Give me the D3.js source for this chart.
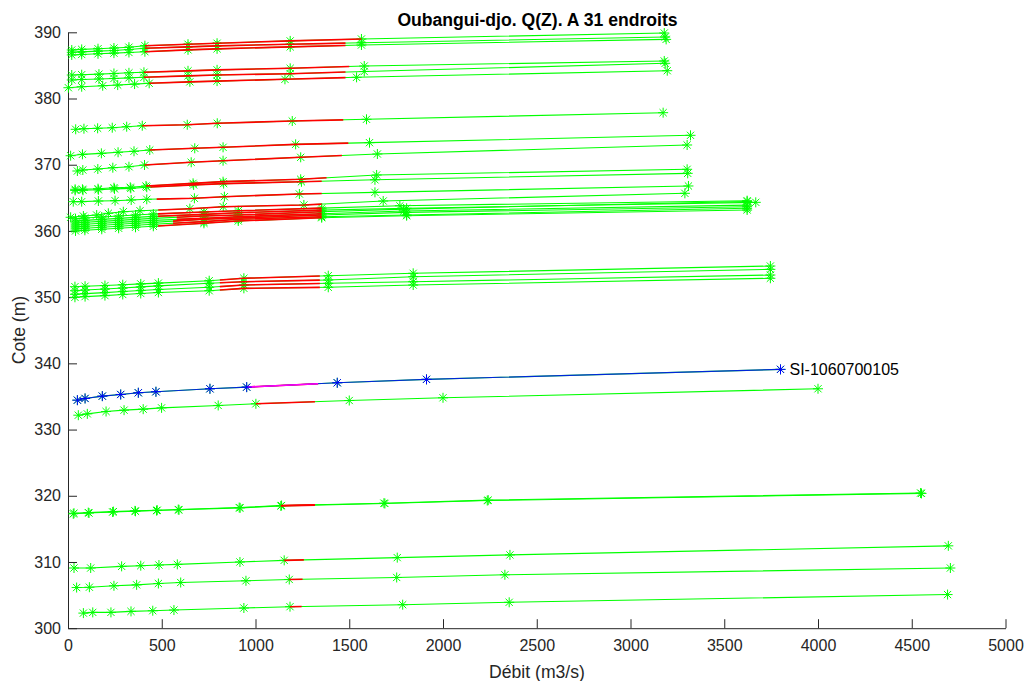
<!DOCTYPE html>
<html><head><meta charset="utf-8">
<script src="https://cdn.jsdelivr.net/npm/d3@7"></script>
<style>body{margin:0;background:#fff;} svg{display:block;font-family:"Liberation Sans",Arial,sans-serif;}</style>
</head><body><svg id="c" width="1030" height="681"></svg>
<script>
const titleText = "Oubangui-djo. Q(Z). A 31 endroits";
const xLabel = "Débit (m3/s)";
const yLabel = "Cote (m)";
const xTicks = [0,500,1000,1500,2000,2500,3000,3500,4000,4500,5000];
const yTicks = [300,310,320,330,340,350,360,370,380,390];
const highlightName = "SI-1060700105";

// Group A (387-390)
const qA = [[20,73,160,245,325,410,640,795,1185,1565,3180],[20,73,160,245,325,410,640,795,1185,1565,3185],[20,73,160,245,325,410,640,795,1185,1565,3190]];
const zA = [[387.33,387.42,387.52,387.62,387.75,387.98,388.2,388.35,388.7,388.99,389.89],
            [386.98,387.05,387.15,387.25,387.4,387.58,387.8,387.95,388.2,388.42,389.28],
            [386.58,386.65,386.75,386.85,386.95,387.07,387.35,387.5,387.8,388.08,388.93]];
const redA = [[410,1565],[410,1480],[410,1480]];
// Group B (382-386)
const qB = [[20,73,165,245,325,405,640,795,1185,1580,3180],[20,73,165,245,325,405,640,795,1185,1580,3185],[2,73,185,265,355,433,650,795,1157,1539,3196]];
const zB = [[383.55,383.6,383.68,383.78,383.88,383.96,384.18,384.33,384.56,384.91,385.67],
            [382.8,382.87,382.95,383.03,383.12,383.2,383.42,383.55,383.75,384.08,385.32],
            [381.63,381.78,381.93,382.03,382.18,382.3,382.52,382.63,382.9,383.2,384.2]];
const redB = [[405,1500],[405,1480],[433,1480]];
// Group C (375-378)
const qC = [[41,85,158,236,313,396,636,796,1196,1592,3174]];
const zC = [[375.35,375.44,375.5,375.59,375.74,375.89,376.04,376.26,376.6,376.86,377.86]];
const redC = [[396,1468]];
// Group D (369-374)
const qD = [[14,77,178,267,352,436,676,827,1214,1608,3320],[50,79,159,239,325,408,657,827,1241,1650,3302]];
const zD = [[371.36,371.57,371.72,371.88,372.03,372.22,372.48,372.63,373.08,373.33,374.44],
            [369.05,369.2,369.35,369.55,369.7,369.96,370.37,370.61,371.12,371.62,372.98]];
const redD = [[436,1495],[408,1461]];
// Group E (362-369)
const qE = [[38,77,160,245,332,416,667,827,1241,1646,3302],[38,80,162,248,335,420,670,830,1245,1637,3305],
            [28,73,162,251,337,420,674,834,1234,1637,3309],[14,82,153,215,295,384,650,828,1258,1681,3290]];
const zE = [[366.29,366.29,366.38,366.53,366.59,366.79,367.19,367.44,367.8,368.45,369.31],
            [366.12,366.15,366.22,366.35,366.43,366.6,366.95,367.15,367.42,367.72,368.7],
            [364.42,364.42,364.52,364.57,364.67,364.78,364.93,365.17,365.58,365.83,366.79],
            [362.06,362.25,362.4,362.66,362.9,363.05,363.36,363.66,363.92,364.52,365.68]];
const redE = [[416,1379],[440,1353],[473,1353],[481,1353]];
// Group K (360-365 cluster)
const qK = [[40,90,180,270,360,455,725,908,1353,1770,3622],[40,90,180,270,360,455,725,908,1353,1806,3668],
            [40,90,180,270,360,455,725,908,1353,1790,3622],[40,90,180,270,360,455,725,908,1353,1790,3622],
            [40,90,180,270,360,455,725,908,1353,1806,3622],[40,90,180,270,360,455,725,908,1353,1806,3622],
            [40,90,180,270,360,455,725,908,1353,1806,3622]];
const zK = [[361.85,361.95,362.1,362.25,362.4,362.55,362.85,363.05,363.45,363.8,364.57],
            [361.5,361.6,361.75,361.9,362.05,362.2,362.5,362.75,363.15,363.42,364.32],
            [361.2,361.3,361.45,361.6,361.75,361.9,362.25,362.41,362.9,363.3,364.45],
            [360.9,361.0,361.15,361.3,361.45,361.6,361.9,362.15,362.6,363.0,363.9],
            [360.6,360.7,360.85,361.0,361.15,361.3,361.76,361.95,362.4,362.8,363.66],
            [360.3,360.4,360.55,360.7,360.85,361.0,361.4,361.76,362.15,362.41,363.42],
            [360.0,360.1,360.25,360.4,360.55,360.7,361.15,361.5,362.0,362.3,363.16]];
const redK = [[480,1353],[480,1353],[580,1353],[580,1353],[560,1353],[560,1353],[480,1353]];
// Group F (350-355)
const qF = [[37,91,197,292,388,482,753,938,1388,1841,3746],[37,91,197,292,388,482,753,938,1388,1841,3746],
            [37,91,197,292,388,482,753,938,1388,1841,3746],[37,91,197,292,388,482,753,938,1388,1841,3746]];
const zF = [[351.58,351.65,351.75,351.88,352.0,352.12,352.48,352.85,353.24,353.6,354.7],
            [350.97,351.07,351.22,351.38,351.55,351.7,352.09,352.33,352.59,353.09,354.2],
            [350.43,350.53,350.68,350.85,351.0,351.15,351.49,351.83,352.09,352.33,353.34],
            [349.98,350.08,350.23,350.4,350.55,350.7,350.97,351.33,351.49,351.83,352.85]];
const redF = [[810,1343],[810,1343],[810,1343],[810,1343]];
// Highlighted station S and its neighbour T
const qS = [[50,91,183,281,375,469,757,953,1436,1912,3800]];
const zS = [[334.44,334.7,335.05,335.3,335.56,335.71,336.16,336.41,337.07,337.58,339.09]];
const redS = [[953,1334]];
const qT = [[55,103,203,299,401,499,801,1002,1500,2000,4000]];
const zT = [[332.17,332.37,332.73,332.93,333.08,333.28,333.64,333.89,334.39,334.8,336.16]];
const redT = [[1002,1317]];
// Group G (317-321)
const qG = [[32,108,242,357,476,588,913,1139,1685,2241,4547],[28,112,238,360,472,592,918,1135,1690,2236,4552]];
const zG = [[317.36,317.46,317.61,317.72,317.82,317.92,318.22,318.53,318.88,319.34,320.41],
            [317.28,317.4,317.55,317.66,317.77,317.88,318.18,318.47,318.84,319.28,320.36]];
const redG = [[1139,1317],[1135,1317]];
// Group H (302-313)
const qH = [[32,121,286,388,485,583,917,1153,1756,2357,4695],[46,114,245,366,482,601,949,1180,1753,2330,4706],[82,132,229,336,452,565,938,1184,1785,2353,4691]];
const zH = [[309.09,309.09,309.34,309.44,309.54,309.64,310.0,310.25,310.66,311.07,312.44],
            [306.14,306.19,306.4,306.55,306.75,306.9,307.16,307.36,307.66,308.07,309.09],
            [302.28,302.39,302.39,302.54,302.64,302.74,303.05,303.25,303.55,303.91,305.08]];
const redH = [[1153,1258],[1180,1251],[1184,1246]];

const groups = [[qA,zA,redA],[qB,zB,redB],[qC,zC,redC],[qD,zD,redD],[qE,zE,redE],[qK,zK,redK],
                [qF,zF,redF],[qS,zS,redS],[qT,zT,redT],[qG,zG,redG],[qH,zH,redH]];
const curves = [];
groups.forEach(([qs,zs,rs]) => qs.forEach((q,i) => curves.push({q, z: zs[i], red: rs[i]})));
const highlight = {q: qS[0], z: zS[0], red: redS[0]};

const svg = d3.select("#c");
const x = d3.scaleLinear().domain([0,5000]).range([68,1005.5]);
const y = d3.scaleLinear().domain([300,390]).range([628.2,32.3]);
const axisColor = "#262626";
const GREEN = "#00ff00", RED = "#ff0000";

// axes
const gx = svg.append("g").attr("transform",`translate(0,${y(300)})`)
  .call(d3.axisBottom(x).tickValues(xTicks).tickFormat(d3.format("d")).tickSizeInner(-9).tickSizeOuter(0).tickPadding(11));
const gy = svg.append("g").attr("transform",`translate(${x(0)},0)`)
  .call(d3.axisLeft(y).tickValues(yTicks).tickFormat(d3.format("d")).tickSizeInner(-9).tickSizeOuter(0).tickPadding(7));
[gx,gy].forEach(g=>{
  g.select(".domain").attr("stroke",axisColor);
  g.selectAll(".tick line").attr("stroke",axisColor);
  g.selectAll(".tick text").attr("fill",axisColor).style("font-size","16px").style("font-family","Liberation Sans, Arial, sans-serif");
});

const line = d3.line().x(d=>x(d[0])).y(d=>y(d[1]));
const asterisk = { draw(ctx, size){ const r=Math.sqrt(size)/2, d=r*0.72;
  ctx.moveTo(-r,0); ctx.lineTo(r,0); ctx.moveTo(0,-r); ctx.lineTo(0,r);
  ctx.moveTo(-d,-d); ctx.lineTo(d,d); ctx.moveTo(-d,d); ctx.lineTo(d,-d);} };
const sym = d3.symbol(asterisk, 100);

function pts(c){ return c.q.map((v,i)=>[v,c.z[i]]); }
function redPts(c){
  const f = d3.scaleLinear().domain(c.q).range(c.z);
  const inner = c.q.map((v,i)=>[v,c.z[i]]).filter(p=>p[0]>c.red[0] && p[0]<c.red[1]);
  return [[c.red[0], f(c.red[0])], ...inner, [c.red[1], f(c.red[1])]];
}

const plot = svg.append("g");
plot.selectAll("path.g").data(curves).join("path").attr("class","g")
  .attr("d",c=>line(pts(c))).attr("fill","none").attr("stroke",GREEN).attr("stroke-width",1.1);
curves.forEach(c=>{
  plot.append("g").selectAll("path").data(pts(c)).join("path")
    .attr("transform",d=>`translate(${x(d[0])},${y(d[1])})`).attr("d",sym)
    .attr("fill","none").attr("stroke",GREEN).attr("stroke-width",1);
});
plot.selectAll("path.r").data(curves).join("path").attr("class","r")
  .attr("d",c=>line(redPts(c))).attr("fill","none").attr("stroke",RED).attr("stroke-width",1.6);

// highlighted station
plot.append("path").attr("d",line(pts(highlight))).attr("fill","none").attr("stroke","#0000ff").attr("stroke-width",1.1).attr("opacity",0.85);
plot.append("path").attr("d",line(redPts(highlight))).attr("fill","none").attr("stroke","#ff00ff").attr("stroke-width",1.6);
plot.append("g").selectAll("path").data(pts(highlight)).join("path")
  .attr("transform",d=>`translate(${x(d[0])},${y(d[1])})`).attr("d",sym)
  .attr("fill","none").attr("stroke","#0000ff").attr("stroke-width",1);
const last = pts(highlight)[highlight.q.length-1];
svg.append("text").attr("x",x(last[0])+9).attr("y",y(last[1])+5.5)
  .style("font-size","16px").attr("fill","#000").text(highlightName);

// title and labels
svg.append("text").attr("x",537.5).attr("y",26).attr("text-anchor","middle")
  .style("font-size","17.6px").style("font-weight","bold").attr("fill","#000").text(titleText);
svg.append("text").attr("x",537).attr("y",678).attr("text-anchor","middle")
  .style("font-size","17.6px").attr("fill",axisColor).text(xLabel);
svg.append("text").attr("transform","translate(25,330) rotate(-90)").attr("text-anchor","middle")
  .style("font-size","17.6px").attr("fill",axisColor).text(yLabel);
</script></body></html>
